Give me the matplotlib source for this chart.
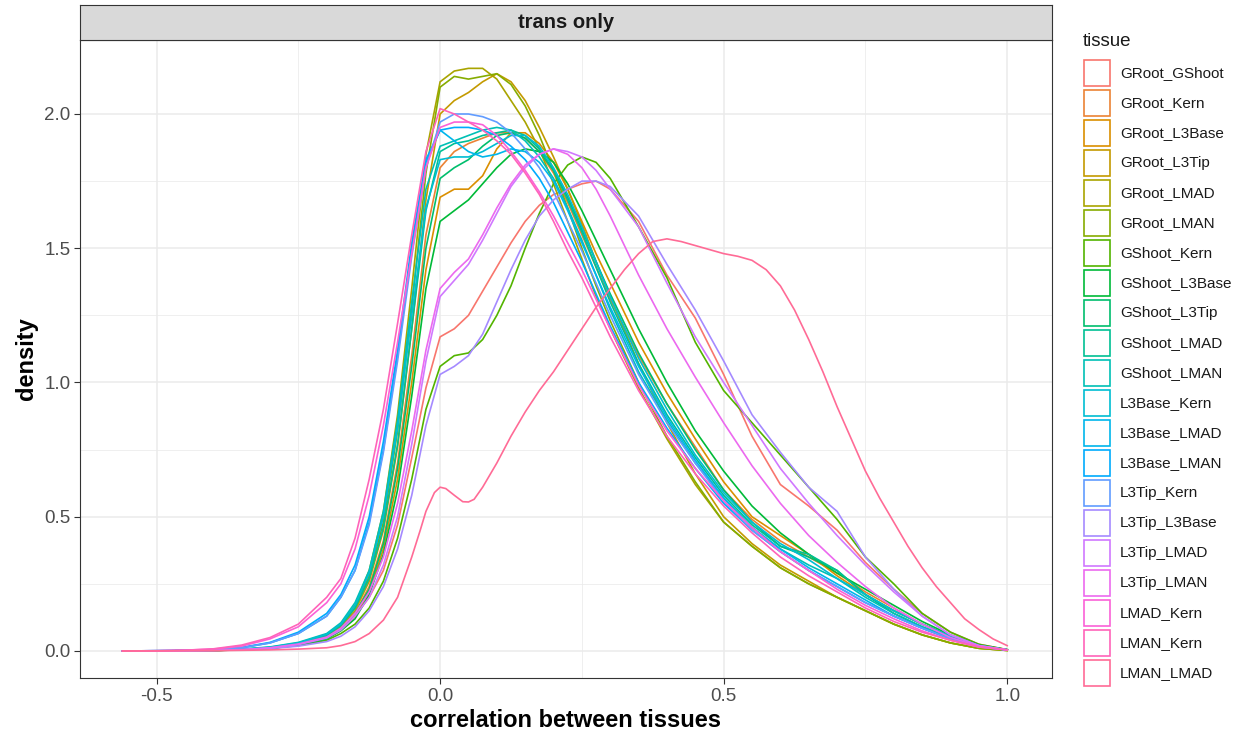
import numpy as np
import matplotlib
matplotlib.use("Agg")
import matplotlib.pyplot as plt
from matplotlib.patches import Rectangle

plt.rcParams['font.family'] = ['Liberation Sans', 'DejaVu Sans']

x = [-0.56, -0.5, -0.45, -0.4, -0.35, -0.3, -0.25, -0.2,
     -0.175, -0.15, -0.125, -0.1, -0.075, -0.05, -0.025, 0.0,
     0.025, 0.05, 0.075, 0.1, 0.125, 0.15, 0.175, 0.2, 0.225, 0.25, 0.275, 0.3,
     0.35, 0.4, 0.45, 0.5, 0.55, 0.6, 0.65, 0.7, 0.75, 0.8, 0.85, 0.9, 0.95, 1.0]

# the LMAN_LMAD curve was read on a finer grid of its own
x_lman_lmad = [-0.56, -0.4, -0.3, -0.25, -0.2, -0.175, -0.15, -0.125, -0.1, -0.075, -0.05,
               -0.035, -0.025, -0.01, 0.0, 0.01, 0.025, 0.04, 0.05, 0.06, 0.075, 0.1, 0.125,
               0.15, 0.175, 0.2, 0.225, 0.25, 0.275, 0.3, 0.325, 0.35, 0.375, 0.4, 0.425, 0.45,
               0.475, 0.5, 0.525, 0.55, 0.575, 0.6, 0.625, 0.65, 0.675, 0.7, 0.725, 0.75, 0.775,
               0.8, 0.825, 0.85, 0.875, 0.9, 0.925, 0.95, 0.975, 1.0]

tissues = ["GRoot_GShoot", "GRoot_Kern", "GRoot_L3Base", "GRoot_L3Tip", "GRoot_LMAD",
           "GRoot_LMAN", "GShoot_Kern", "GShoot_L3Base", "GShoot_L3Tip", "GShoot_LMAD",
           "GShoot_LMAN", "L3Base_Kern", "L3Base_LMAD", "L3Base_LMAN", "L3Tip_Kern",
           "L3Tip_L3Base", "L3Tip_LMAD", "L3Tip_LMAN", "LMAD_Kern", "LMAN_Kern", "LMAN_LMAD"]

groot_gshoot = [0, 0, 0.001, 0.002, 0.005, 0.012, 0.025, 0.05, 0.08, 0.13, 0.2, 0.3, 0.47, 0.72, 0.98, 1.17,
                1.2, 1.25, 1.34, 1.43, 1.52, 1.6, 1.66, 1.7, 1.72, 1.74, 1.75, 1.72,
                1.6, 1.4, 1.24, 1.03, 0.8, 0.62, 0.54, 0.45, 0.33, 0.23, 0.14, 0.07, 0.025, 0.005]
groot_kern = [0, 0, 0.001, 0.002, 0.005, 0.011, 0.024, 0.052, 0.085, 0.14, 0.24, 0.41, 0.7, 1.1, 1.55, 1.8,
              1.86, 1.89, 1.91, 1.93, 1.93, 1.91, 1.86, 1.78, 1.67, 1.55, 1.43, 1.31,
              1.1, 0.92, 0.76, 0.6, 0.49, 0.41, 0.35, 0.29, 0.22, 0.16, 0.1, 0.055, 0.02, 0.004]
groot_l3base = [0, 0, 0.001, 0.002, 0.004, 0.01, 0.022, 0.048, 0.08, 0.13, 0.22, 0.38, 0.64, 1.0, 1.42, 1.69,
                1.72, 1.72, 1.77, 1.87, 1.93, 1.93, 1.89, 1.82, 1.72, 1.6, 1.48, 1.37,
                1.15, 0.96, 0.79, 0.63, 0.5, 0.43, 0.36, 0.28, 0.21, 0.15, 0.1, 0.055, 0.02, 0.004]
groot_l3tip = [0, 0, 0.001, 0.002, 0.005, 0.011, 0.025, 0.055, 0.09, 0.15, 0.26, 0.45, 0.76, 1.2, 1.68, 2.0,
               2.05, 2.08, 2.12, 2.15, 2.12, 2.05, 1.95, 1.84, 1.72, 1.59, 1.45, 1.32,
               1.07, 0.85, 0.66, 0.5, 0.4, 0.32, 0.26, 0.2, 0.15, 0.1, 0.06, 0.03, 0.01, 0.002]
groot_lmad = [0, 0, 0.001, 0.002, 0.005, 0.012, 0.028, 0.06, 0.1, 0.17, 0.3, 0.52, 0.88, 1.35, 1.85, 2.12,
              2.16, 2.17, 2.17, 2.13, 2.05, 1.97, 1.87, 1.74, 1.6, 1.46, 1.32, 1.2,
              0.98, 0.79, 0.62, 0.48, 0.39, 0.31, 0.25, 0.2, 0.15, 0.1, 0.06, 0.03, 0.01, 0.002]
groot_lman = [0, 0, 0.001, 0.002, 0.005, 0.012, 0.027, 0.058, 0.095, 0.16, 0.28, 0.48, 0.82, 1.28, 1.78, 2.1,
              2.14, 2.13, 2.14, 2.15, 2.11, 2.03, 1.92, 1.79, 1.65, 1.5, 1.36, 1.23,
              1.0, 0.8, 0.63, 0.48, 0.39, 0.31, 0.25, 0.2, 0.15, 0.1, 0.06, 0.03, 0.01, 0.002]
gshoot_kern = [0, 0, 0.001, 0.002, 0.004, 0.01, 0.02, 0.04, 0.065, 0.1, 0.16, 0.26, 0.42, 0.64, 0.9, 1.06,
               1.1, 1.11, 1.16, 1.25, 1.36, 1.5, 1.63, 1.74, 1.81, 1.84, 1.82, 1.76,
               1.58, 1.39, 1.15, 0.97, 0.85, 0.73, 0.61, 0.49, 0.35, 0.25, 0.14, 0.07, 0.025, 0.005]
gshoot_l3base = [0, 0, 0.001, 0.002, 0.004, 0.01, 0.022, 0.045, 0.075, 0.12, 0.21, 0.36, 0.6, 0.95, 1.35, 1.6,
                 1.64, 1.68, 1.74, 1.8, 1.85, 1.87, 1.86, 1.82, 1.74, 1.64, 1.53, 1.42,
                 1.2, 1.0, 0.82, 0.67, 0.54, 0.44, 0.36, 0.29, 0.23, 0.17, 0.11, 0.06, 0.022, 0.005]
gshoot_l3tip = [0, 0, 0.001, 0.002, 0.005, 0.011, 0.024, 0.05, 0.083, 0.14, 0.23, 0.4, 0.68, 1.06, 1.5, 1.76,
                1.8, 1.83, 1.88, 1.92, 1.93, 1.91, 1.86, 1.79, 1.69, 1.57, 1.45, 1.33,
                1.11, 0.92, 0.75, 0.6, 0.48, 0.39, 0.35, 0.3, 0.21, 0.14, 0.09, 0.05, 0.018, 0.004]
gshoot_lmad = [0, 0, 0.001, 0.003, 0.006, 0.013, 0.028, 0.058, 0.095, 0.16, 0.27, 0.46, 0.77, 1.2, 1.64, 1.86,
               1.89, 1.9, 1.92, 1.93, 1.94, 1.92, 1.87, 1.79, 1.68, 1.56, 1.43, 1.3,
               1.07, 0.88, 0.72, 0.58, 0.47, 0.39, 0.36, 0.3, 0.21, 0.15, 0.1, 0.055, 0.02, 0.004]
gshoot_lman = [0, 0, 0.001, 0.003, 0.007, 0.015, 0.032, 0.065, 0.105, 0.18, 0.3, 0.52, 0.86, 1.3, 1.72, 1.88,
               1.9, 1.92, 1.94, 1.95, 1.94, 1.9, 1.84, 1.76, 1.65, 1.53, 1.4, 1.27,
               1.04, 0.86, 0.7, 0.57, 0.46, 0.38, 0.32, 0.27, 0.2, 0.14, 0.09, 0.05, 0.018, 0.004]
l3base_kern = [0, 0, 0.001, 0.003, 0.006, 0.014, 0.03, 0.062, 0.1, 0.17, 0.29, 0.5, 0.83, 1.25, 1.65, 1.83,
               1.84, 1.84, 1.86, 1.89, 1.92, 1.92, 1.88, 1.8, 1.7, 1.58, 1.45, 1.32,
               1.09, 0.9, 0.73, 0.59, 0.48, 0.4, 0.34, 0.27, 0.21, 0.15, 0.1, 0.055, 0.02, 0.004]
l3base_lmad = [0, 0.001, 0.002, 0.005, 0.012, 0.03, 0.065, 0.13, 0.2, 0.3, 0.48, 0.75, 1.1, 1.5, 1.82, 1.94,
               1.9, 1.86, 1.84, 1.85, 1.87, 1.86, 1.82, 1.75, 1.64, 1.52, 1.4, 1.28,
               1.06, 0.87, 0.71, 0.57, 0.46, 0.38, 0.31, 0.25, 0.19, 0.13, 0.085, 0.045, 0.016, 0.004]
l3base_lman = [0, 0.001, 0.002, 0.005, 0.013, 0.032, 0.07, 0.14, 0.21, 0.32, 0.5, 0.78, 1.12, 1.52, 1.83, 1.94,
               1.95, 1.95, 1.94, 1.92, 1.88, 1.83, 1.76, 1.67, 1.56, 1.45, 1.33, 1.21,
               1.0, 0.83, 0.68, 0.55, 0.45, 0.37, 0.3, 0.24, 0.18, 0.13, 0.085, 0.045, 0.016, 0.004]
l3tip_kern = [0, 0.001, 0.002, 0.005, 0.012, 0.03, 0.065, 0.13, 0.2, 0.3, 0.47, 0.74, 1.08, 1.47, 1.8, 1.97,
              2.0, 2.0, 1.99, 1.97, 1.93, 1.87, 1.8, 1.71, 1.6, 1.49, 1.37, 1.25,
              1.03, 0.85, 0.7, 0.56, 0.45, 0.37, 0.3, 0.24, 0.18, 0.13, 0.085, 0.045, 0.016, 0.004]
l3tip_l3base = [0, 0, 0.001, 0.002, 0.004, 0.009, 0.018, 0.035, 0.055, 0.09, 0.15, 0.24, 0.38, 0.58, 0.84, 1.03,
                1.06, 1.1, 1.18, 1.3, 1.42, 1.53, 1.62, 1.68, 1.72, 1.75, 1.75, 1.73,
                1.62, 1.44, 1.27, 1.08, 0.88, 0.74, 0.61, 0.52, 0.35, 0.23, 0.13, 0.06, 0.02, 0.004]
l3tip_lmad = [0, 0, 0.001, 0.002, 0.005, 0.011, 0.024, 0.048, 0.078, 0.13, 0.2, 0.32, 0.5, 0.77, 1.08, 1.32,
              1.38, 1.44, 1.53, 1.63, 1.73, 1.8, 1.85, 1.87, 1.86, 1.84, 1.79, 1.72,
              1.58, 1.37, 1.17, 1.0, 0.84, 0.68, 0.55, 0.43, 0.32, 0.22, 0.13, 0.06, 0.02, 0.004]
l3tip_lman = [0, 0, 0.001, 0.002, 0.005, 0.012, 0.026, 0.052, 0.085, 0.14, 0.22, 0.35, 0.55, 0.82, 1.12, 1.35,
              1.41, 1.46, 1.55, 1.65, 1.74, 1.81, 1.85, 1.87, 1.85, 1.8, 1.72, 1.62,
              1.4, 1.2, 1.02, 0.85, 0.69, 0.55, 0.43, 0.33, 0.24, 0.16, 0.1, 0.05, 0.018, 0.004]
lmad_kern = [0, 0.001, 0.003, 0.007, 0.018, 0.045, 0.09, 0.18, 0.25, 0.38, 0.58, 0.84, 1.15, 1.48, 1.8, 1.95,
             1.97, 1.97, 1.96, 1.92, 1.86, 1.79, 1.71, 1.62, 1.52, 1.42, 1.31, 1.2,
             0.99, 0.82, 0.68, 0.56, 0.46, 0.37, 0.3, 0.23, 0.17, 0.12, 0.075, 0.04, 0.015, 0.004]
lman_kern = [0, 0.001, 0.003, 0.008, 0.022, 0.05, 0.1, 0.2, 0.27, 0.42, 0.64, 0.9, 1.22, 1.55, 1.86, 2.02,
             2.0, 1.97, 1.94, 1.9, 1.85, 1.78, 1.7, 1.6, 1.49, 1.39, 1.28, 1.17,
             0.97, 0.8, 0.66, 0.54, 0.44, 0.35, 0.28, 0.22, 0.16, 0.11, 0.07, 0.04, 0.015, 0.004]
lman_lmad = [0, 0.001, 0.004, 0.007, 0.012, 0.02, 0.035, 0.065, 0.115, 0.2, 0.35,
             0.45, 0.52, 0.59, 0.61, 0.605, 0.58, 0.556, 0.555, 0.565, 0.61, 0.7, 0.8,
             0.89, 0.97, 1.04, 1.12, 1.2, 1.28, 1.35, 1.42, 1.48, 1.525, 1.535, 1.525, 1.51,
             1.495, 1.48, 1.47, 1.455, 1.42, 1.36, 1.27, 1.16, 1.04, 0.91, 0.79, 0.67, 0.57,
             0.48, 0.39, 0.31, 0.24, 0.18, 0.12, 0.08, 0.045, 0.02]

curves = [groot_gshoot, groot_kern, groot_l3base, groot_l3tip, groot_lmad, groot_lman,
          gshoot_kern, gshoot_l3base, gshoot_l3tip, gshoot_lmad, gshoot_lman,
          l3base_kern, l3base_lmad, l3base_lman, l3tip_kern, l3tip_l3base, l3tip_lmad,
          l3tip_lman, lmad_kern, lman_kern, lman_lmad]
xs = [x] * 20 + [x_lman_lmad]


def hcl_color(h, c=100.0, l=65.0):
    # ggplot2 hue_pal: polar CIE-Luv to sRGB
    hr = np.deg2rad(h)
    u, v = c * np.cos(hr), c * np.sin(hr)
    Y = ((l + 16) / 116) ** 3
    un, vn = 0.1978398, 0.4683363
    up = u / (13 * l) + un
    vp = v / (13 * l) + vn
    X = 9 * Y * up / (4 * vp)
    Z = Y * (12 - 3 * up - 20 * vp) / (4 * vp)
    rgb = np.array([3.240479 * X - 1.537150 * Y - 0.498535 * Z,
                    -0.969256 * X + 1.875992 * Y + 0.041556 * Z,
                    0.055648 * X - 0.204043 * Y + 1.057311 * Z])
    rgb = np.where(rgb <= 0.0031308, 12.92 * rgb, 1.055 * np.abs(rgb) ** (1 / 2.4) - 0.055)
    return tuple(np.clip(rgb, 0, 1))


n = len(tissues)
colors = [hcl_color(15 + i * 360.0 / n) for i in range(n)]

fig = plt.figure(figsize=(12.42, 7.36), dpi=100)
ax = fig.add_axes([80 / 1242, 58 / 736, 972 / 1242, 638 / 736])

for name, xv, ys, col in zip(tissues, xs, curves, colors):
    ax.plot(xv, ys, color=col, lw=1.2, label=name, solid_joinstyle='round')

ax.set_xlim(-0.635, 1.079)
ax.set_ylim(-0.1006, 2.2756)
ax.set_xticks([-0.5, 0.0, 0.5, 1.0])
ax.set_xticklabels(["-0.5", "0.0", "0.5", "1.0"])
ax.set_yticks([0.0, 0.5, 1.0, 1.5, 2.0])
ax.set_yticklabels(["0.0", "0.5", "1.0", "1.5", "2.0"])
ax.set_xticks([-0.25, 0.25, 0.75], minor=True)
ax.set_yticks([0.25, 0.75, 1.25, 1.75], minor=True)
ax.grid(True, which='major', color='#EBEBEB', lw=1.1)
ax.grid(True, which='minor', color='#EBEBEB', lw=0.55)
ax.set_axisbelow(True)
ax.tick_params(which='major', length=4, width=0.8, color='#333333',
               labelsize=13.5, labelcolor='#4D4D4D', pad=3)
ax.tick_params(which='minor', length=0)
for s in ax.spines.values():
    s.set_color('#333333')
    s.set_linewidth(0.8)
ax.set_xlabel("correlation between tissues", fontsize=17, fontweight='bold', labelpad=3)
ax.set_ylabel("density", fontsize=17, fontweight='bold', labelpad=4)

# facet strip
strip = fig.add_axes([80 / 1242, 696 / 736, 972 / 1242, 35 / 736])
strip.set_facecolor('#D9D9D9')
strip.set_xticks([])
strip.set_yticks([])
for s in strip.spines.values():
    s.set_color('#333333')
    s.set_linewidth(0.8)
strip.text(0.5, 0.5, "trans only", ha='center', va='center', fontsize=14.5,
           fontweight='bold', color='#1A1A1A')

# legend
fig.text(1083 / 1242, 1 - 42 / 736, "tissue", fontsize=13.5, color='#1A1A1A', va='center', ha='left')
for i, (name, col) in enumerate(zip(tissues, colors)):
    yc = 73 + i * 30
    fig.add_artist(Rectangle((1084 / 1242, 1 - (yc + 13) / 736), 26 / 1242, 26 / 736,
                             transform=fig.transFigure, facecolor='white', edgecolor=col, lw=1.2))
    fig.text(1120 / 1242, 1 - yc / 736, name, fontsize=11, color='#1A1A1A', va='center', ha='left')

fig.savefig("out.png", dpi=100)
